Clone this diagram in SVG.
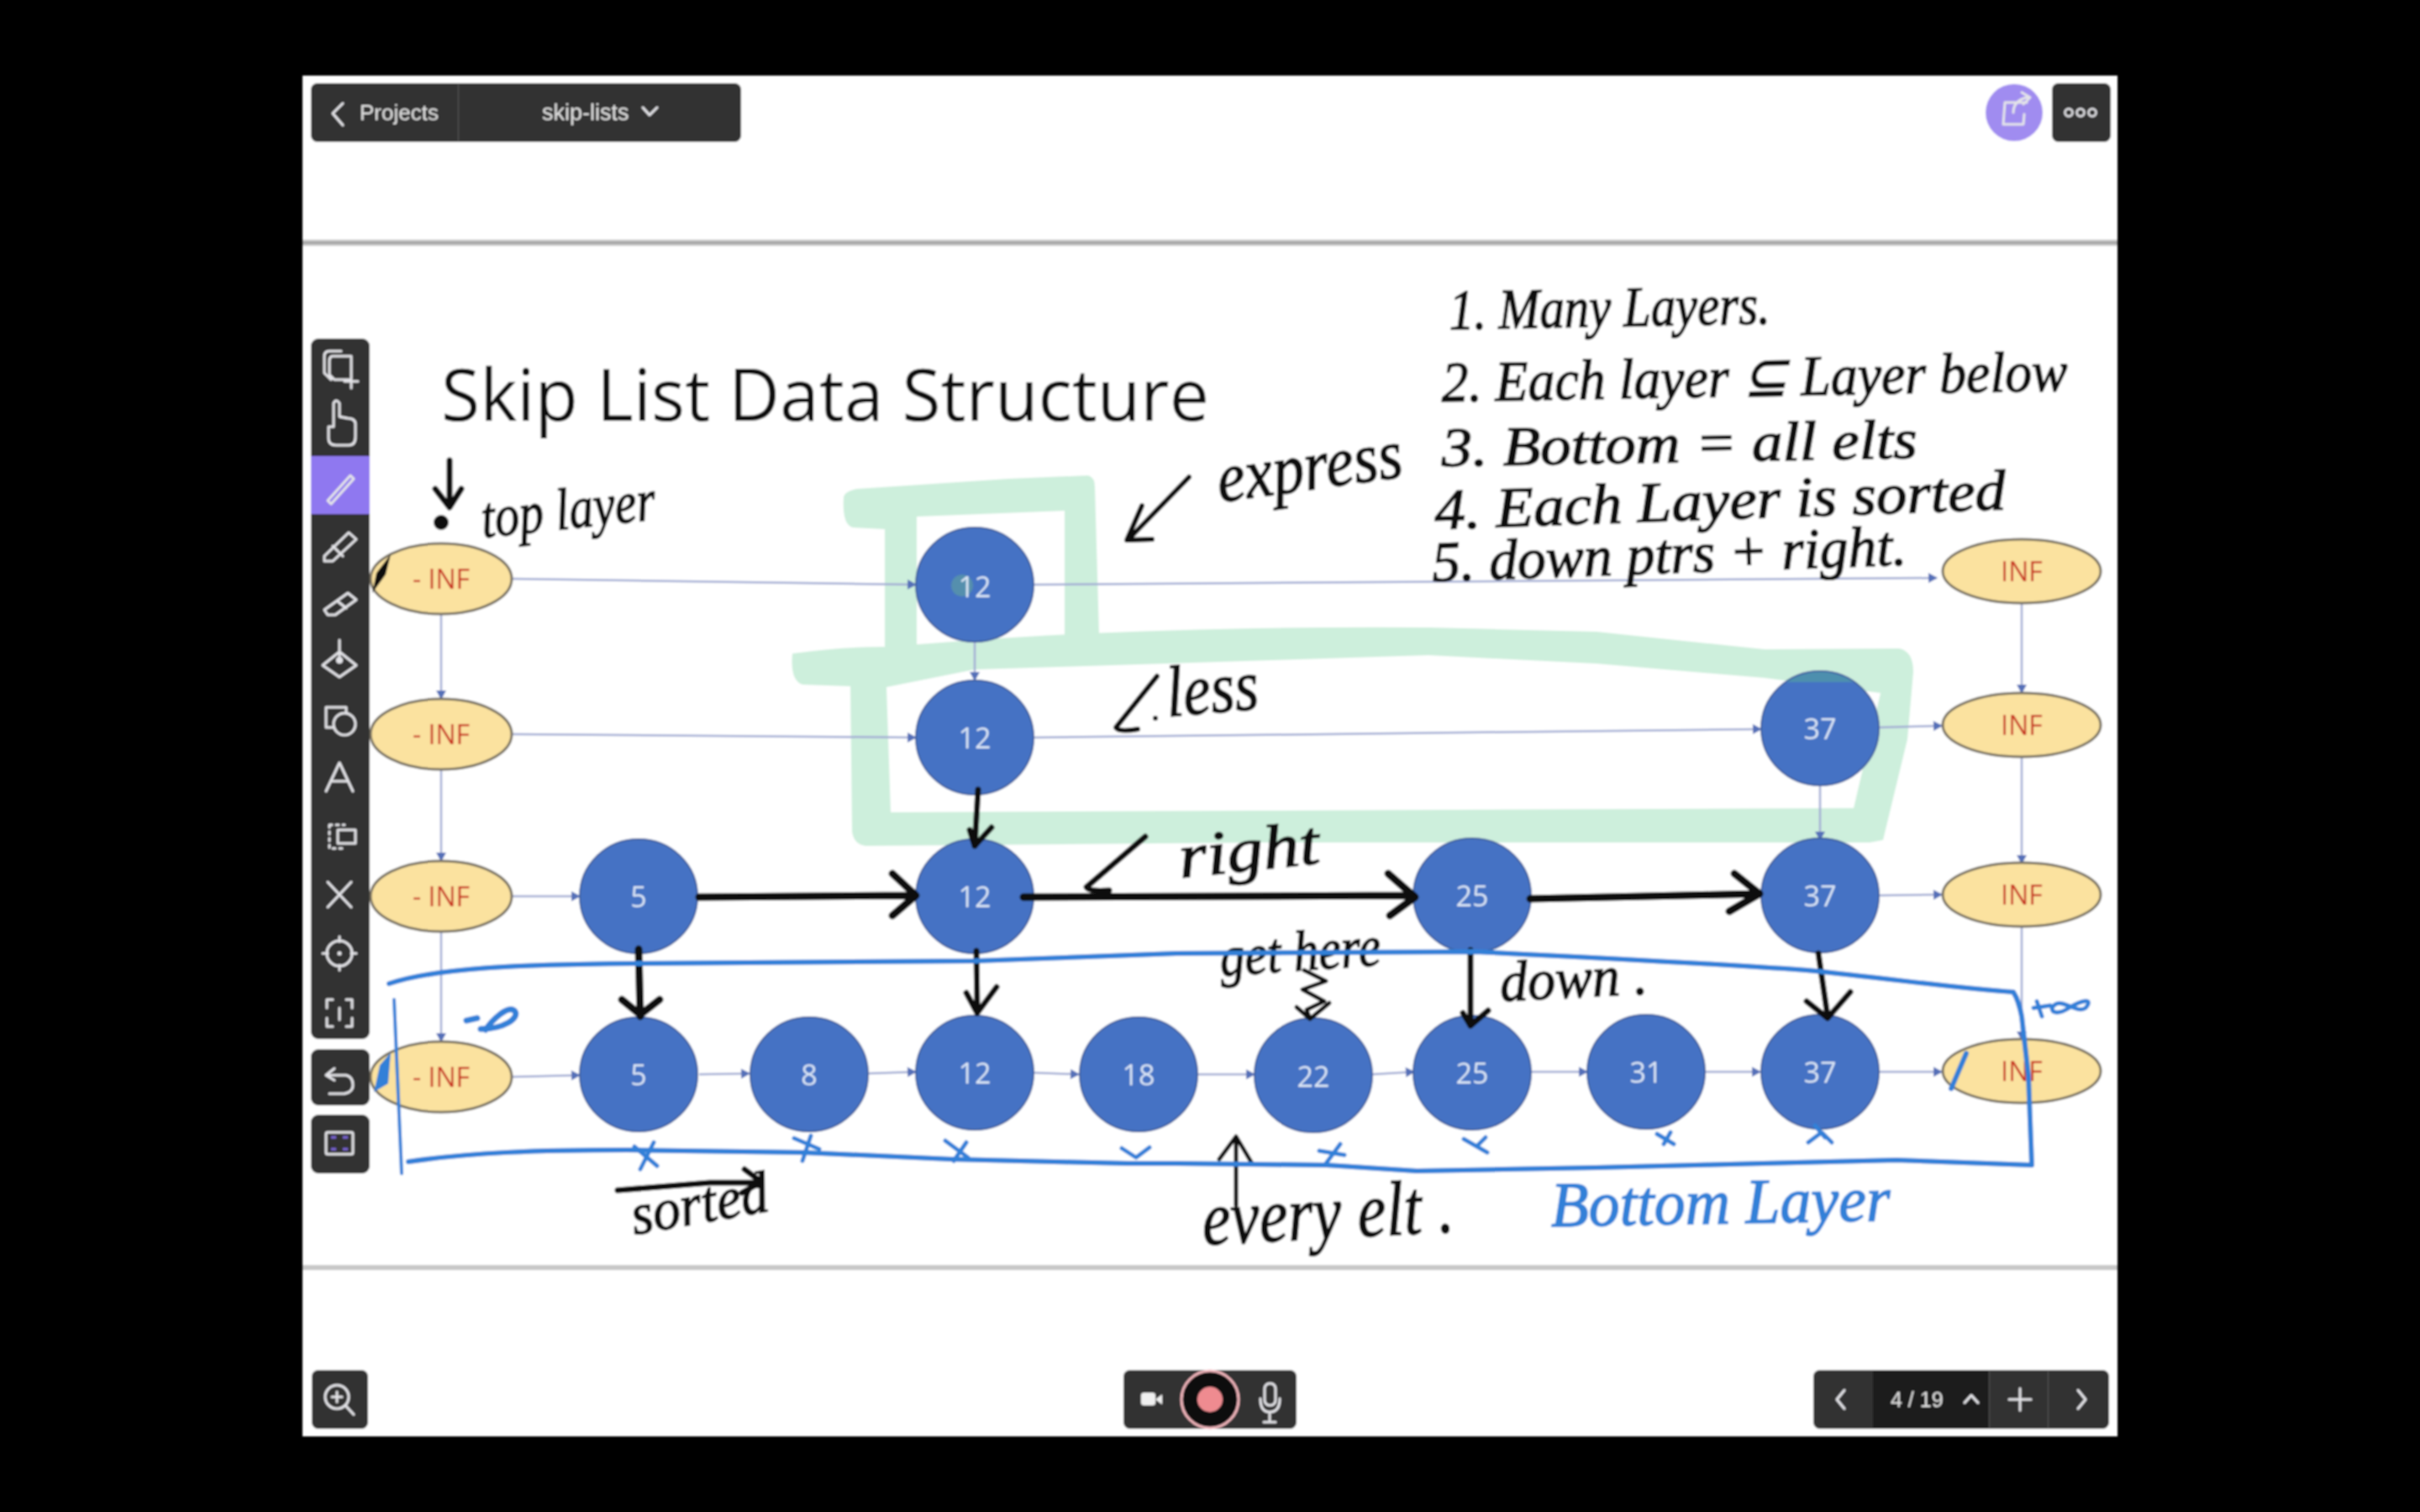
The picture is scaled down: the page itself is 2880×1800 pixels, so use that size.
<svg xmlns="http://www.w3.org/2000/svg" width="2880" height="1800" viewBox="0 0 2880 1800">
<defs>
<marker id="a" markerWidth="14" markerHeight="14" refX="11" refY="7" orient="auto" markerUnits="userSpaceOnUse"><path d="M1 1 L12 7 L1 13 Z" fill="#5470b8"/></marker>
<filter id="soft" filterUnits="userSpaceOnUse" x="0" y="0" width="2880" height="1800"><feGaussianBlur stdDeviation="0.9"/></filter>
</defs>
<style>
.bar{fill:#333333}
.ic{fill:none;stroke:#e4e4e8;stroke-width:3;stroke-linecap:round;stroke-linejoin:round}
.ui{font-family:"Liberation Sans",Arial,sans-serif;fill:#e2e2e2}
.c{fill:#4472c4;stroke:#3f5f9e;stroke-width:2}
.e{fill:#fbe29f;stroke:#777060;stroke-width:3}
.ct{font-family:"Open Sans","Noto Sans",sans-serif;font-size:34px;fill:#dbe6f6;text-anchor:middle}
.et{font-family:"Open Sans","Noto Sans",sans-serif;font-size:32px;fill:#c8301c;text-anchor:middle}
.l{fill:none;stroke:#a3add4;stroke-width:2.5;marker-end:url(#a)}
.gr{fill:#cdefdc}
.ink{fill:none;stroke:#111;stroke-width:7;stroke-linecap:round;stroke-linejoin:round}
.blue{fill:none;stroke:#3080d8;stroke-width:6;stroke-linecap:round;stroke-linejoin:round}
.w4{stroke-width:4}.w5{stroke-width:5}.w6{stroke-width:6}.w7{stroke-width:7}.w8{stroke-width:9}
.hw{font-family:"Liberation Serif",serif;font-style:italic;fill:#111;stroke:#111;stroke-width:1.6}
.hb{font-family:"Liberation Serif",serif;font-style:italic;fill:#3080d8;stroke:#3080d8;stroke-width:1.6}
</style>
<rect width="2880" height="1800" fill="#000"/>
<g filter="url(#soft)">
<rect x="360" y="90" width="2160" height="1620" fill="#fff"/>
<rect x="360" y="285" width="2160" height="8" fill="#d4d4d4"/>
<rect x="360" y="287" width="2160" height="4" fill="#a8a8a8"/>
<rect x="360" y="1506" width="2160" height="6" fill="#c8c8c8"/>
<text x="525" y="501" font-family="Open Sans,Noto Sans,sans-serif" font-size="86" font-weight="400" fill="#111" textLength="914" lengthAdjust="spacingAndGlyphs">Skip List Data Structure</text>

<g id="highlight">
<path class="gr" d="M1004 592 Q1005 585 1020 582 L1200 570 L1295 566 Q1303 568 1303 580 L1308 755 L1267 762 L1267 608 L1091 615 L1091 780 L1053 780 L1053 630 L1015 628 Q1002 625 1004 592Z"/>
<path class="gr" fill-rule="evenodd" d="M943 778 Q1000 770 1053 770 L1160 762 Q1400 745 1700 747 L1900 752 L2100 773 L2260 772 Q2277 775 2277 800 L2270 880 L2241 1000 L2225 1003 L1500 1003 L1030 1007 Q1016 1005 1014 990 L1012 817 L955 815 Q940 810 943 778Z M1055 818 L1060 967 L1500 965 L2206 962 L2238 825 L2100 807 L1900 790 L1700 780 L1160 797Z"/>
</g>

<g id="connectors">
<path class="l" d="M609 689 L1090 696"/>
<path class="l" d="M1230 696 L2305 688"/>
<path class="l" d="M609 874 L1090 878"/>
<path class="l" d="M1230 878 L2096 868"/>
<path class="l" d="M2236 866 L2311 864"/>
<path class="l" d="M609 1067 L690 1067"/>
<path class="l" d="M2236 1066 L2311 1065"/>
<path class="l" d="M609 1282 L690 1280"/>
<path class="l" d="M832 1279 L892 1278"/>
<path class="l" d="M1032 1278 L1090 1276"/>
<path class="l" d="M1230 1277 L1284 1279"/>
<path class="l" d="M1425 1279 L1493 1279"/>
<path class="l" d="M1633 1279 L1683 1276"/>
<path class="l" d="M1821 1276 L1889 1276"/>
<path class="l" d="M2029 1276 L2095 1276"/>
<path class="l" d="M2236 1276 L2311 1276"/>
<path class="l" d="M525 731 L525 832"/>
<path class="l" d="M525 916 L525 1025"/>
<path class="l" d="M525 1109 L525 1240"/>
<path class="l" d="M1160 763 L1160 810"/>
<path class="l" d="M2166 935 L2166 1000"/>
<path class="l" d="M2406 718 L2406 825"/>
<path class="l" d="M2406 901 L2406 1028"/>
<path class="l" d="M2406 1103 L2406 1238"/>
</g>

<g id="n-inf-1"><ellipse class="e" cx="525" cy="689" rx="84" ry="42"/><text class="et" x="525" y="701">- INF</text></g>
<g id="n-inf-2"><ellipse class="e" cx="525" cy="874" rx="84" ry="42"/><text class="et" x="525" y="886">- INF</text></g>
<g id="n-inf-3"><ellipse class="e" cx="525" cy="1067" rx="84" ry="42"/><text class="et" x="525" y="1079">- INF</text></g>
<g id="n-inf-4"><ellipse class="e" cx="525" cy="1282" rx="84" ry="42"/><text class="et" x="525" y="1294">- INF</text></g>
<g id="n12-1"><ellipse class="c" cx="1160" cy="696" rx="70" ry="68"/><circle cx="1145" cy="697" r="13" fill="#5a96a8" opacity=".8"/><text class="ct" x="1160" y="711">12</text></g>
<g id="n12-2"><ellipse class="c" cx="1160" cy="878" rx="70" ry="68"/><text class="ct" x="1160" y="891">12</text></g>
<g id="n37-2"><ellipse class="c" cx="2166" cy="867" rx="70" ry="68"/><path d="M2126 812 A70 68 0 0 1 2206 812 Z" fill="#4e8fae"/><text class="ct" x="2166" y="880">37</text></g>
<g id="n5-3"><ellipse class="c" cx="760" cy="1067" rx="70" ry="68"/><text class="ct" x="760" y="1080">5</text></g>
<g id="n12-3"><ellipse class="c" cx="1160" cy="1067" rx="70" ry="68"/><text class="ct" x="1160" y="1080">12</text></g>
<g id="n25-3"><ellipse class="c" cx="1752" cy="1066" rx="70" ry="68"/><text class="ct" x="1752" y="1079">25</text></g>
<g id="n37-3"><ellipse class="c" cx="2166" cy="1066" rx="70" ry="68"/><text class="ct" x="2166" y="1079">37</text></g>
<g id="n5-4"><ellipse class="c" cx="760" cy="1279" rx="70" ry="68"/><text class="ct" x="760" y="1292">5</text></g>
<g id="n8-4"><ellipse class="c" cx="963" cy="1279" rx="70" ry="68"/><text class="ct" x="963" y="1292">8</text></g>
<g id="n12-4"><ellipse class="c" cx="1160" cy="1277" rx="70" ry="68"/><text class="ct" x="1160" y="1290">12</text></g>
<g id="n18-4"><ellipse class="c" cx="1355" cy="1279" rx="70" ry="68"/><text class="ct" x="1355" y="1292">18</text></g>
<g id="n22-4"><ellipse class="c" cx="1563" cy="1280" rx="70" ry="68"/><text class="ct" x="1563" y="1294">22</text></g>
<g id="n25-4"><ellipse class="c" cx="1752" cy="1277" rx="70" ry="68"/><text class="ct" x="1752" y="1290">25</text></g>
<g id="n31-4"><ellipse class="c" cx="1959" cy="1276" rx="70" ry="68"/><text class="ct" x="1959" y="1289">31</text></g>
<g id="n37-4"><ellipse class="c" cx="2166" cy="1276" rx="70" ry="68"/><text class="ct" x="2166" y="1289">37</text></g>
<g id="ninf-1"><ellipse class="e" cx="2406" cy="680" rx="94" ry="38"/><text class="et" x="2406" y="692">INF</text></g>
<g id="ninf-2"><ellipse class="e" cx="2406" cy="863" rx="94" ry="38"/><text class="et" x="2406" y="875">INF</text></g>
<g id="ninf-3"><ellipse class="e" cx="2406" cy="1065" rx="94" ry="38"/><text class="et" x="2406" y="1077">INF</text></g>
<g id="ninf-4"><ellipse class="e" cx="2406" cy="1275" rx="94" ry="38"/><text class="et" x="2406" y="1287">INF</text></g>

<g id="ink-black">
<path class="ink" d="M535 548 L535 602 M518 582 L535 604 L549 582"/>
<circle cx="525" cy="622" r="9" fill="#111"/>
<path d="M443 706 L448 682 L465 660 L459 684 Z" fill="#111"/>
<path class="ink w6" d="M1415 568 L1345 640 M1359 602 L1341 643 L1371 642"/>
<path class="ink w6" d="M1377 805 L1328 866 Q1332 872 1354 868"/>
<circle cx="1375" cy="855" r="3" fill="#111"/>
<path class="ink" d="M1164 940 L1160 1007 M1154 988 L1160 1007 L1180 985"/>
<path class="ink" d="M1363 996 L1293 1056 Q1296 1062 1320 1060"/>
<path class="ink w8" d="M832 1068 L1090 1066 M1062 1040 L1090 1066 L1062 1090"/>
<path class="ink w8" d="M1218 1068 L1682 1066 M1652 1040 L1684 1068 L1654 1090"/>
<path class="ink w8" d="M1821 1070 L2094 1064 M2064 1040 L2094 1064 L2058 1085"/>
<path class="ink w8" d="M760 1130 L762 1210 M740 1190 L762 1208 L785 1190"/>
<path class="ink" d="M1162 1132 L1163 1205 M1150 1182 L1163 1206 L1186 1175"/>
<path class="ink" d="M1750 1131 L1750 1221 M1741 1206 L1750 1221 L1771 1203"/>
<path class="ink" d="M2164 1135 L2175 1210 M2150 1192 L2175 1212 L2202 1181"/>
<path class="ink w5" d="M1552 1155 L1578 1168 L1550 1178 L1576 1192 L1555 1202 L1559 1213 M1543 1199 L1559 1213 L1582 1194"/>
<path class="ink" d="M735 1417 L845 1408 L904 1408 M886 1392 L906 1407 L883 1420"/>
<path class="ink w5" d="M1471 1435 L1471 1353 M1451 1380 L1471 1353 L1490 1385"/>
<text class="hw" x="575" y="640" font-size="70" textLength="208" lengthAdjust="spacingAndGlyphs" transform="rotate(-6 575 640)">top layer</text>
<text class="hw" x="1452" y="598" font-size="84" textLength="222" lengthAdjust="spacingAndGlyphs" transform="rotate(-8 1452 598)">express</text>
<text class="hw" x="1390" y="853" font-size="86" textLength="110" lengthAdjust="spacingAndGlyphs" transform="rotate(-5 1390 853)">less</text>
<text class="hw" x="1405" y="1045" font-size="74" textLength="168" lengthAdjust="spacingAndGlyphs" transform="rotate(-6 1405 1045)">right</text>
<text class="hw" x="1453" y="1162" font-size="68" textLength="192" lengthAdjust="spacingAndGlyphs" transform="rotate(-4 1453 1162)">get here</text>
<text class="hw" x="1786" y="1192" font-size="68" textLength="176" lengthAdjust="spacingAndGlyphs" transform="rotate(-3 1786 1192)">down .</text>
<text class="hw" x="755" y="1470" font-size="70" textLength="165" lengthAdjust="spacingAndGlyphs" transform="rotate(-10 755 1470)">sorted</text>
<text class="hw" x="1432" y="1482" font-size="92" textLength="300" lengthAdjust="spacingAndGlyphs" transform="rotate(-3 1432 1482)">every elt .</text>
<text class="hw" x="1725" y="392" font-size="68" textLength="382" lengthAdjust="spacingAndGlyphs" transform="rotate(-1 1725 392)">1. Many Layers.</text>
<text class="hw" x="1716" y="478" font-size="68" textLength="745" lengthAdjust="spacingAndGlyphs" transform="rotate(-1 1716 478)">2. Each layer ⊆ Layer below</text>
<text class="hw" x="1716" y="555" font-size="66" textLength="566" lengthAdjust="spacingAndGlyphs" transform="rotate(-1 1716 555)">3. Bottom = all elts</text>
<text class="hw" x="1708" y="630" font-size="68" textLength="680" lengthAdjust="spacingAndGlyphs" transform="rotate(-2 1708 630)">4. Each Layer is sorted</text>
<text class="hw" x="1705" y="692" font-size="68" textLength="565" lengthAdjust="spacingAndGlyphs" transform="rotate(-2 1705 692)">5. down ptrs + right.</text>
</g>

<g id="ink-blue">
<path class="blue" d="M463 1171 C520 1152 620 1148 753 1147 L1160 1144 L1400 1135 L1757 1133 C1900 1140 2050 1148 2150 1155 C2250 1165 2340 1178 2396 1181 C2402 1190 2404 1200 2406 1210 L2414 1281 L2418 1387 L2257 1381 L1900 1390 L1686 1394 L1579 1387 L1400 1385 L1342 1385 L1132 1380 L956 1372 L746 1369 C640 1369 560 1372 486 1383"/>
<path class="blue w4" d="M469 1190 L478 1397"/>
<path d="M445 1300 L452 1268 L465 1253 L462 1290 Z" fill="#3080d8"/>
<path class="blue" d="M2322 1296 L2340 1254"/>
<path class="blue w7" d="M555 1215 L568 1212 M572 1225 C600 1225 618 1212 613 1204 C605 1195 585 1215 578 1226"/>
<path class="blue w5" d="M2420 1200 L2440 1197 M2424 1192 L2430 1210 M2442 1200 C2452 1184 2470 1208 2482 1200 C2492 1188 2478 1190 2462 1200 C2450 1208 2442 1206 2442 1200"/>
<path class="blue w5" d="M755 1365 L782 1388 M778 1360 L762 1392"/>
<path class="blue w5" d="M945 1355 L975 1368 M965 1352 L955 1382"/>
<path class="blue w5" d="M1125 1358 L1152 1378 M1150 1360 L1135 1382"/>
<path class="blue w5" d="M1335 1367 L1352 1378 L1368 1366"/>
<path class="blue w5" d="M1570 1370 L1600 1375 M1595 1362 L1578 1385"/>
<path class="blue w5" d="M1742 1356 L1770 1372 M1768 1354 L1758 1364"/>
<path class="blue w5" d="M1972 1350 L1992 1362 M1988 1348 L1980 1362"/>
<path class="blue w5" d="M2152 1360 L2168 1348 L2180 1360 M2160 1340 L2172 1354"/>
<text class="hb" x="1846" y="1460" font-size="76" textLength="404" lengthAdjust="spacingAndGlyphs" transform="rotate(-1 1846 1460)">Bottom Layer</text>
</g>

<g id="ui">
<path class="bar" d="M378 99 H874 a8 8 0 0 1 8 8 V161 a8 8 0 0 1 -8 8 H378 a8 8 0 0 1 -8 -8 V107 a8 8 0 0 1 8 -8 Z"/>
<rect x="545" y="99" width="1" height="70" fill="#555"/>
<path class="ic" d="M408 123 L396 135 L408 149"/>
<text class="ui" x="428" y="143" font-size="26">Projects</text>
<text class="ui" x="645" y="143" font-size="27">skip-lists</text>
<path class="ic" d="M765 128 L773 137 L782 128"/>
<circle cx="2397" cy="134" r="34" fill="#a08cf0"/>
<path class="ic" d="M2412 122 L2386 122 L2384 148 L2408 148 L2409 136 M2396 134 C2396 122 2404 118 2412 116 M2406 110 L2416 116 L2408 124"/>
<rect x="2442" y="99" width="70" height="70" rx="8" class="bar"/>
<g fill="none" stroke="#e4e4e8" stroke-width="2.5"><circle cx="2462" cy="134" r="4.5"/><circle cx="2476" cy="134" r="4.5"/><circle cx="2490" cy="134" r="4.5"/></g>

<rect class="bar" x="370" y="403" width="70" height="834" rx="9"/>
<rect x="370" y="543" width="70" height="69" fill="#8f78f0"/>
<rect class="bar" x="370" y="1249" width="70" height="67" rx="9"/>
<rect class="bar" x="370" y="1327" width="70" height="70" rx="9"/>
<path class="ic" d="M394 452 L386 444 V424 Q386 418 392 418 H406 M396 424 H418 V452 L398 452 L392 446 V430 Q392 424 396 424 M410 454 H426 M418 446 V462"/>
<path class="ic" d="M391 508 V522 Q391 530 400 530 H415 Q423 530 423 520 V504 Q422 498 414 498 L404 496 V480 Q400 474 397 480 V508 Z"/>
<path class="ic" d="M390 596 L417 566 L421 570 L394 600 Z"/>
<path class="ic" d="M386 662 L415 634 L424 642 L396 668 H386 Z M396 650 L408 662"/>
<path class="ic" d="M386 726 L414 706 L424 714 L399 732 H390 Z M402 716 L412 724"/>
<path class="ic" d="M384 792 L404 776 L424 792 L404 806 Z M404 762 V782"/>
<circle cx="404" cy="786" r="4" fill="#e4e4e8"/>
<path class="ic" d="M412 848 V842 H388 V866 H396"/>
<circle class="ic" cx="410" cy="862" r="13"/>
<path class="ic" d="M388 942 L404 908 L420 942 M394 930 H414"/>
<path class="ic" d="M392 982 H410 M392 982 V1010 H410" stroke-dasharray="3 5"/>
<rect class="ic" x="402" y="988" width="21" height="16"/>
<path class="ic" d="M390 1050 L418 1080 M418 1050 L390 1080"/>
<circle class="ic" cx="404" cy="1135" r="15"/><circle cx="404" cy="1135" r="2.5" fill="#e4e4e8"/>
<path class="ic" d="M404 1115 V1121 M404 1149 V1155 M384 1135 H390 M418 1135 H424"/>
<path class="ic" d="M396 1190 H389 V1200 M412 1190 H419 V1200 M396 1222 H389 V1212 M412 1222 H419 V1212 M404 1200 V1214"/>
<path class="ic" d="M398 1272 L388 1280 L398 1286 M388 1280 H412 Q420 1282 420 1292 Q420 1300 410 1302 H392"/>
<rect class="ic" x="388" y="1348" width="32" height="26" rx="2"/>
<path d="M394 1354 H400 M408 1354 H414 M394 1368 H400 M408 1368 H414" stroke="#7c66d8" stroke-width="3" fill="none"/>

<rect class="bar" x="371" y="1631" width="67" height="70" rx="8"/>
<circle class="ic" cx="401" cy="1663" r="14"/>
<path class="ic" d="M411 1673 L421 1684 M401 1657 V1669 M395 1663 H407"/>
<rect class="bar" x="1337" y="1631" width="206" height="70" rx="8"/>
<circle cx="1440" cy="1666" r="34" fill="#111" stroke="#f2b6bc" stroke-width="3"/>
<circle cx="1440" cy="1666" r="15" fill="#ef8b90"/>
<rect x="1358" y="1658" width="17" height="15" rx="3" fill="#f0f0f0"/>
<path d="M1375 1666 L1383 1660 V1672 Z" fill="#f0f0f0"/>
<rect class="ic" x="1505" y="1647" width="13" height="26" rx="6"/>
<path class="ic" d="M1500 1665 Q1500 1681 1511 1681 Q1523 1681 1523 1665 M1511 1681 V1693 M1504 1693 H1518"/>
<rect class="bar" x="2158" y="1631" width="352" height="70" rx="8"/>
<rect x="2229" y="1631" width="138" height="70" fill="#1c1c1c"/>
<rect x="2367" y="1631" width="1" height="70" fill="#555"/>
<rect x="2437" y="1631" width="1" height="70" fill="#555"/>
<path class="ic" d="M2195 1655 L2186 1666 L2195 1677"/>
<text class="ui" x="2250" y="1675" font-size="25">4 / 19</text>
<path class="ic" d="M2338 1670 L2346 1661 L2354 1670"/>
<path class="ic" d="M2404 1653 V1679 M2391 1666 H2417"/>
<path class="ic" d="M2473 1655 L2482 1666 L2473 1677"/>
</g>
</g>
</svg>
